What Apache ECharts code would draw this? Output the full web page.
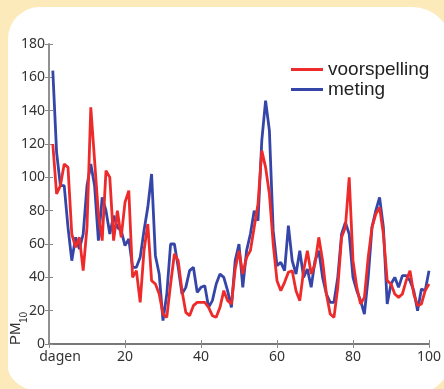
<!DOCTYPE html>
<html>
<head>
<meta charset="utf-8">
<script src="https://cdn.jsdelivr.net/npm/echarts@6/dist/echarts.min.js"></script>
<style>
  html, body { margin: 0; padding: 0; }
  body { width: 444px; height: 389px; background: #fdeabb; overflow: hidden; position: relative; }
  .card {
    position: absolute; left: 8px; top: 7px; width: 444px; height: 388px;
    background: #ffffff;
    border-radius: 32px 40px 40px 50px / 32px 40px 40px 28px;
  }
  #chart { position: absolute; left: 0; top: 0; width: 444px; height: 389px; }
</style>
</head>
<body>
<div class="card"></div>
<div id="chart"></div>
<script>
// dagen 1..100
var days = [
  1, 2, 3, 4, 5, 6, 7, 8, 9, 10, 11, 12, 13, 14, 15, 16, 17, 18, 19, 20,
  21, 22, 23, 24, 25, 26, 27, 28, 29, 30, 31, 32, 33, 34, 35, 36, 37, 38, 39, 40,
  41, 42, 43, 44, 45, 46, 47, 48, 49, 50, 51, 52, 53, 54, 55, 56, 57, 58, 59, 60,
  61, 62, 63, 64, 65, 66, 67, 68, 69, 70, 71, 72, 73, 74, 75, 76, 77, 78, 79, 80,
  81, 82, 83, 84, 85, 86, 87, 88, 89, 90, 91, 92, 93, 94, 95, 96, 97, 98, 99, 100
];
var voorspelling = [
  120, 90, 95, 108, 106, 66, 58, 64, 44, 70, 142, 110, 78, 62, 104, 100, 62, 80, 64, 85,
  92, 40, 44, 25, 56, 72, 38, 36, 30, 18, 16, 36, 54, 50, 32, 19, 17, 23, 25, 25,
  25, 22, 17, 16, 22, 32, 26, 24, 45, 56, 42, 52, 56, 70, 84, 116, 106, 90, 60, 38,
  32, 37, 43, 44, 32, 26, 44, 56, 42, 48, 64, 50, 30, 18, 16, 34, 64, 70, 100, 50,
  34, 24, 28, 52, 70, 78, 82, 66, 38, 36, 30, 28, 30, 38, 44, 30, 23, 24, 32, 36
];
var meting = [
  164, 115, 95, 95, 70, 50, 64, 57, 66, 95, 108, 95, 62, 88, 80, 66, 77, 70, 68, 59,
  63, 46, 46, 52, 68, 82, 102, 53, 42, 14, 30, 60, 60, 46, 30, 34, 44, 46, 31, 34,
  35, 22, 26, 36, 42, 40, 32, 22, 50, 60, 34, 56, 66, 80, 74, 122, 146, 128, 68, 47,
  49, 44, 71, 50, 42, 56, 40, 45, 34, 50, 56, 40, 30, 25, 25, 40, 66, 73, 66, 40,
  32, 26, 18, 40, 70, 80, 88, 70, 24, 36, 40, 34, 41, 41, 38, 32, 20, 33, 32, 44
];
var xTicks = { min: 0, max: 100, interval: 20 };
var yTicks = { min: 0, max: 180, interval: 20 };

function pairs(vals) {
  var out = [];
  for (var i = 0; i < days.length; i++) {
    out.push([days[i], vals[i]]);
  }
  return out;
}

var axisColor = "#8a8a8a";
var labelFont = "Noto Sans";

var myChart = echarts.init(document.getElementById("chart"));
myChart.setOption({
  animation: false,
  grid: { left: 49, right: 5, top: 44, bottom: 45 },
  legend: {
    orient: "vertical",
    left: 286,
    top: 51,
    icon: "rect",
    itemWidth: 32,
    itemHeight: 3,
    itemGap: -7,
    data: ["voorspelling", "meting"],
    textStyle: {
      fontFamily: "Liberation Sans",
      fontSize: 19,
      color: "#222",
      lineHeight: 20,
      padding: [0, 0, 7, 0]
    }
  },
  xAxis: [
    {
      type: "value",
      min: xTicks.min,
      max: xTicks.max,
      interval: xTicks.interval,
      position: "bottom",
      splitLine: { show: false },
      axisLine: { lineStyle: { color: axisColor, width: 1.5 } },
      axisTick: { show: true, inside: true, length: 4, lineStyle: { color: axisColor } },
      axisLabel: {
        margin: 6,
        color: "#333",
        fontFamily: labelFont,
        fontSize: 14,
        showMaxLabel: true,
        formatter: function (v) {
          return v === 0 ? "{d|dagen}" : String(v);
        },
        rich: {
          d: { fontFamily: labelFont, fontSize: 14, color: "#333", padding: [0, 0, 0, 22] }
        }
      }
    },
    {
      type: "value",
      min: xTicks.min,
      max: xTicks.max,
      interval: xTicks.interval,
      position: "top",
      splitLine: { show: false },
      axisLine: { lineStyle: { color: "#6a6a6a", width: 1.5 } },
      axisTick: { show: true, inside: true, length: 4, lineStyle: { color: axisColor } },
      axisLabel: { show: false }
    }
  ],
  yAxis: [
    {
      type: "value",
      min: yTicks.min,
      max: yTicks.max,
      interval: yTicks.interval,
      position: "left",
      splitLine: { show: false },
      axisLine: { show: true, lineStyle: { color: axisColor, width: 1.5 } },
      axisTick: { show: true, inside: true, length: 4, lineStyle: { color: axisColor } },
      axisLabel: { margin: 4, color: "#333", fontFamily: labelFont, fontSize: 14 }
    },
    {
      type: "value",
      min: yTicks.min,
      max: yTicks.max,
      interval: yTicks.interval,
      position: "right",
      splitLine: { show: false },
      axisLine: { show: true, lineStyle: { color: axisColor, width: 1.5 } },
      axisTick: { show: true, inside: true, length: 4, lineStyle: { color: axisColor } },
      axisLabel: { show: false }
    }
  ],
  graphic: [
    {
      type: "text",
      x: 16,
      y: 345,
      rotation: Math.PI / 2,
      style: {
        text: "PM",
        fontFamily: "Liberation Sans",
        fontSize: 15,
        fill: "#333",
        align: "left",
        verticalAlign: "middle"
      }
    },
    {
      type: "text",
      x: 24,
      y: 323,
      rotation: Math.PI / 2,
      style: {
        text: "10",
        fontFamily: "Liberation Sans",
        fontSize: 10,
        fill: "#333",
        align: "left",
        verticalAlign: "middle"
      }
    }
  ],
  series: [
    {
      name: "meting",
      type: "line",
      data: pairs(meting),
      showSymbol: false,
      color: "#3546a8",
      lineStyle: { color: "#3546a8", width: 2.8 }
    },
    {
      name: "voorspelling",
      type: "line",
      data: pairs(voorspelling),
      showSymbol: false,
      color: "#ee2b2b",
      lineStyle: { color: "#ee2b2b", width: 2.8 }
    }
  ]
});
</script>
</body>
</html>
